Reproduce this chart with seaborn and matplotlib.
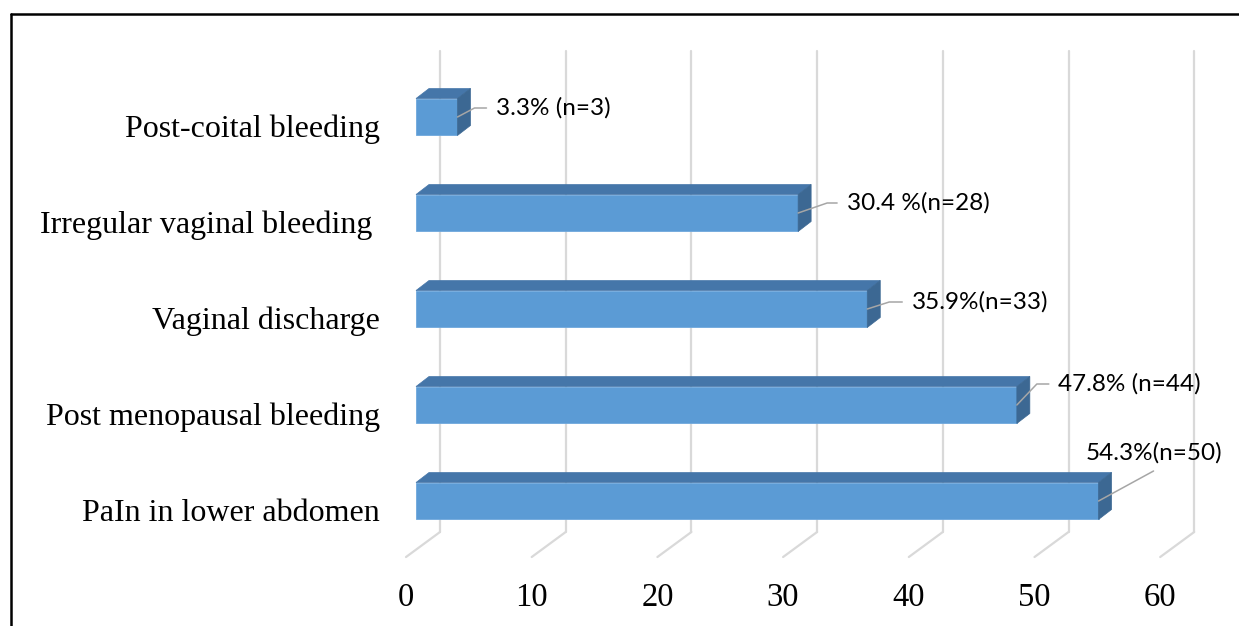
import numpy as np
import matplotlib
matplotlib.use("Agg")
import matplotlib.pyplot as plt
import matplotlib.transforms as mtransforms
from matplotlib.patches import Polygon
from matplotlib.lines import Line2D
import seaborn as sns

# chart data (top to bottom as shown)
symptoms = ["Post-coital bleeding", "Irregular vaginal bleeding ", "Vaginal discharge",
            "Post menopausal bleeding", "PaIn in lower abdomen"]
percent = [3.3, 30.4, 35.9, 47.8, 54.3]
bar_labels = ["3.3% (n=3)", "30.4 %(n=28)", "35.9%(n=33)", "47.8% (n=44)", "54.3%(n=50)"]
x_ticks = [0, 10, 20, 30, 40, 50, 60]

sns.set_style("white")
plt.rcParams['font.family'] = ['Liberation Serif', 'DejaVu Serif']
plt.rcParams['text.color'] = 'black'
plt.rcParams['xtick.color'] = 'black'
plt.rcParams['ytick.color'] = 'black'

W, H = 1239, 626
fig = plt.figure(figsize=(W / 100, H / 100), dpi=100)
# axes placed in pixel terms: x=0 at bar front face, 12.57 px per unit
left, right, top, bottom = 416, 416 + 60 * 12.57, 69, 549
ax = fig.add_axes([left / W, (H - bottom) / H, (right - left) / W, (bottom - top) / H])

front, topc, side = "#5B9BD5", "#4576A9", "#3C6893"
grid_c = "#D9D9D9"

sns.barplot(x=percent, y=symptoms, orient="h", color=front, saturation=1,
            width=0.385, ax=ax, zorder=3, edgecolor="#6FA8DC", linewidth=0.6)
ax.set_xlim(0, 60)
ax.set_ylim(4.5, -0.5)
ax.set_xlabel("")
ax.set_ylabel("")
for s in ax.spines.values():
    s.set_visible(False)

# gridlines on the back wall + floor diagonals (perspective look)
xt = ax.get_xaxis_transform()
for t in x_ticks:
    back = mtransforms.offset_copy(xt, fig=fig, x=24, y=0, units="dots")
    floor = mtransforms.offset_copy(xt, fig=fig, x=-10, y=0, units="dots")
    ax.add_line(Line2D([t, t], [0.0354, 1.0375], transform=back, color=grid_c,
                       lw=1.6, zorder=1, clip_on=False))
    p0 = floor.transform((t, -0.0167))
    p1 = back.transform((t, 0.0354))
    ax.add_line(Line2D([p0[0], p1[0]], [p0[1], p1[1]], transform=mtransforms.IdentityTransform(),
                       color=grid_c, lw=1.6, zorder=1, clip_on=False))

# 3D faces on top and right of each bar
dx, dy = 13, 10
ident = mtransforms.IdentityTransform()
for p in ax.patches:
    x0, y0, w, h = p.get_x(), p.get_y(), p.get_width(), p.get_height()
    tl = ax.transData.transform((x0, y0))
    tr = ax.transData.transform((x0 + w, y0))
    br = ax.transData.transform((x0 + w, y0 + h))
    top_face = [tl, tr, tr + (dx, dy), tl + (dx, dy)]
    side_face = [tr, br, br + (dx, dy), tr + (dx, dy)]
    ax.add_patch(Polygon(top_face, closed=True, transform=ident, facecolor=topc,
                         edgecolor=topc, lw=0.5, zorder=3, clip_on=False))
    ax.add_patch(Polygon(side_face, closed=True, transform=ident, facecolor=side,
                         edgecolor=side, lw=0.5, zorder=3, clip_on=False))

# data labels with leader lines (pixel offsets from bar end)
leaders = [[(0, 0), (17, 9), (29, 9)],
           [(0, 0), (29, 10), (39, 10)],
           [(0, 0), (22, 7), (35, 7)],
           [(0, 0), (20, 21), (32, 21)],
           [(0, 0), (55, 30)]]
text_pos = [(39, 9, "left"), (49, 10, "left"), (45, 7, "left"), (41, 21, "left"), (55, 48, "center")]
for i, (v, lab) in enumerate(zip(percent, bar_labels)):
    base = ax.transData.transform((v, i))
    pts = np.array(leaders[i]) + base
    ax.add_line(Line2D(pts[:, 0], pts[:, 1], transform=ident, color="#A6A6A6",
                       lw=1.1, zorder=4, clip_on=False))
    ox, oy, ha = text_pos[i]
    ax.annotate(lab, xy=(v, i), xytext=(ox, oy), textcoords="offset pixels",
                ha=ha, va="center", fontsize=17.5, family=["Lato", "DejaVu Sans"],
                color="black", zorder=5, annotation_clip=False)

# ticks
ax.set_xticks(x_ticks)
ax.set_xticklabels([str(t) for t in x_ticks], fontsize=23.5)
ax.tick_params(axis="x", length=0, pad=24)
ax.tick_params(axis="y", length=0, pad=26, labelsize=23)
for lab in ax.get_xticklabels():
    lab.set_transform(lab.get_transform() + mtransforms.ScaledTranslation(-0.10, 0, fig.dpi_scale_trans))
for lab in ax.get_yticklabels():
    lab.set_transform(lab.get_transform() + mtransforms.ScaledTranslation(0, -0.09, fig.dpi_scale_trans))

# outer frame (only left and top visible in the crop)
fx, fy = 11 / W, (H - 14) / H
fig.add_artist(Line2D([fx, fx], [0, fy], transform=fig.transFigure, color="black", lw=1.8))
fig.add_artist(Line2D([fx, 1], [fy, fy], transform=fig.transFigure, color="black", lw=1.8))

fig.savefig("out.png", dpi=100)
